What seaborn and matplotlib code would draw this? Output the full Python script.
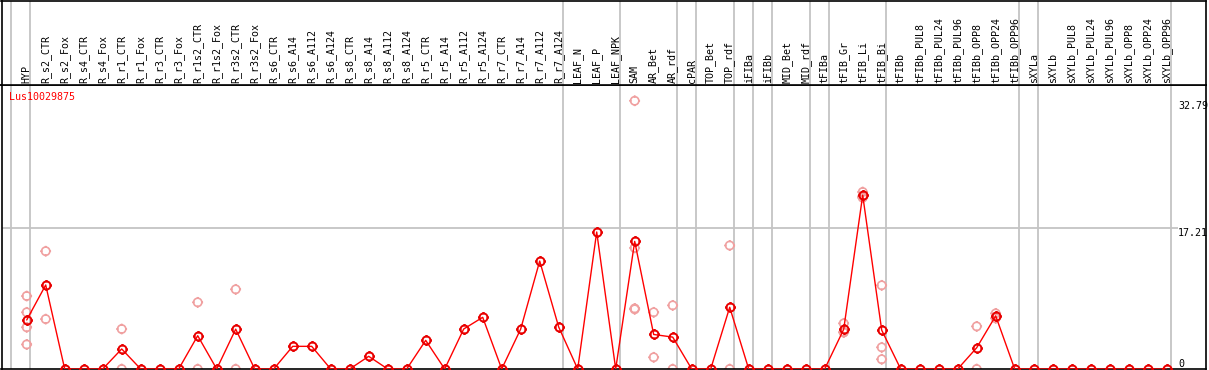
import numpy as np
import pandas as pd
import matplotlib
matplotlib.use("Agg")
import matplotlib.pyplot as plt
import seaborn as sns
from matplotlib.path import Path

# ---------------- data ----------------
series_name = "Lus10029875"

categories = [
    "HYP", "R_s2_CTR", "R_s2_Fox", "R_s4_CTR", "R_s4_Fox", "R_r1_CTR", "R_r1_Fox",
    "R_r3_CTR", "R_r3_Fox", "R_r1s2_CTR", "R_r1s2_Fox", "R_r3s2_CTR", "R_r3s2_Fox",
    "R_s6_CTR", "R_s6_A14", "R_s6_A112", "R_s6_A124", "R_s8_CTR", "R_s8_A14",
    "R_s8_A112", "R_s8_A124", "R_r5_CTR", "R_r5_A14", "R_r5_A112", "R_r5_A124",
    "R_r7_CTR", "R_r7_A14", "R_r7_A112", "R_r7_A124", "LEAF_N", "LEAF_P", "LEAF_NPK",
    "SAM", "AR_Bet", "AR_rdf", "cPAR", "TOP_Bet", "TOP_rdf", "iFIBa", "iFIBb",
    "MID_Bet", "MID_rdf", "tFIBa", "tFIB_Gr", "tFIB_Li", "tFIB_Bi", "tFIBb",
    "tFIBb_PUL8", "tFIBb_PUL24", "tFIBb_PUL96", "tFIBb_OPP8", "tFIBb_OPP24",
    "tFIBb_OPP96", "sXYLa", "sXYLb", "sXYLb_PUL8", "sXYLb_PUL24", "sXYLb_PUL96",
    "sXYLb_OPP8", "sXYLb_OPP24", "sXYLb_OPP96",
]

mean_values = [
    5.99, 10.27, 0, 0, 0, 2.45, 0, 0, 0, 4.07, 0, 4.87, 0,
    0, 2.77, 2.77, 0, 0, 1.55, 0, 0, 3.5, 0, 4.89, 6.32,
    0, 4.89, 13.2, 5.13, 0, 16.75, 0,
    15.6, 4.22, 3.9, 0, 0, 7.55, 0, 0,
    0, 0, 0, 4.85, 21.25, 4.75, 0,
    0, 0, 0, 2.6, 6.5, 0,
    0, 0, 0, 0, 0, 0, 0, 0,
]

rep_categories = [
    "HYP", "HYP", "HYP", "HYP",
    "R_s2_CTR", "R_s2_CTR",
    "R_r1_CTR", "R_r1_CTR",
    "R_r1s2_CTR", "R_r1s2_CTR",
    "R_r3s2_CTR", "R_r3s2_CTR",
    "SAM", "SAM", "SAM", "SAM",
    "AR_Bet", "AR_Bet",
    "AR_rdf", "AR_rdf",
    "TOP_rdf", "TOP_rdf",
    "tFIB_Gr", "tFIB_Gr", "tFIB_Gr",
    "tFIB_Li", "tFIB_Li", "tFIB_Li",
    "tFIB_Bi", "tFIB_Bi", "tFIB_Bi",
    "tFIBb_OPP8", "tFIBb_OPP8",
    "tFIBb_OPP24", "tFIBb_OPP24",
]
rep_values = [
    8.92, 6.93, 5.1, 3.0,
    14.4, 6.1,
    4.89, 0,
    8.15, 0,
    9.74, 0,
    32.79, 14.8, 7.4, 7.3,
    6.93, 1.43,
    7.78, 0,
    15.1, 0,
    5.58, 4.49, 4.48,
    21.64, 20.94, 21.1,
    10.23, 2.65, 1.19,
    5.21, 0,
    6.8, 6.2,
]

group_lines = [-0.84, 0.2, 28.2, 31.2, 34.2, 35.2, 37.2, 38.2, 39.2,
               41.2, 42.2, 45.2, 52.2, 53.2, 60.2]
y_labels = ["32.79", "17.21", "0"]
y_label_values = [32.79, 17.21, 0.0]

# ---------------- layout helpers ----------------
W, H = 1209, 370
STEP, X0 = 19.0, 26.7          # px per category, px of first category
PX_PER_UNIT = 8.18


def xi(px):
    return (px - X0) / STEP


sns.set_theme(style="white")
plt.rcParams["font.family"] = ["DejaVu Sans Mono", "DejaVu Sans"]

fig = plt.figure(figsize=(W / 100, H / 100), dpi=100)
left_px, right_px = 1.5, 1205.5
ax = fig.add_axes([left_px / W, 1 - 369 / H, (right_px - left_px) / W, (369 - 85) / H])
hx = fig.add_axes([left_px / W, 1 - 85 / H, (right_px - left_px) / W, (85 - 1) / H])

xlim = (xi(left_px), xi(right_px))
ylim = (0, (369 - 85) / PX_PER_UNIT)

# marker: circle with four small ticks
circ = Path.circle((0, 0), 1.0)
ticks = []
codes = []
for dx, dy in [(0, 1), (0, -1), (1, 0), (-1, 0)]:
    ticks += [(dx * 0.8, dy * 0.8), (dx * 1.3, dy * 1.3)]
    codes += [Path.MOVETO, Path.LINETO]
tick_marker = Path.make_compound_path(circ, Path(ticks, codes))

# grid lines
for g in group_lines:
    ax.axvline(g, color="#c4c4c4", lw=1.3, zorder=0)
    hx.axvline(g, color="#c4c4c4", lw=1.3, zorder=0)
ax.hlines(17.21, xlim[0], xi(1178), color="#c4c4c4", lw=1.3, zorder=0)

pos = {c: i for i, c in enumerate(categories)}
mean_df = pd.DataFrame({"pos": np.arange(len(categories)), "value": mean_values})
rep_df = pd.DataFrame({"pos": [pos[c] for c in rep_categories], "value": rep_values})

sns.scatterplot(data=rep_df, x="pos", y="value", ax=ax, marker=tick_marker, s=60,
                facecolor="none", edgecolor="#f0a0a0", linewidth=1.2, zorder=2,
                legend=False)
sns.lineplot(data=mean_df, x="pos", y="value", ax=ax, color="#ff0000", lw=1.0,
             marker=tick_marker, markersize=7.6, markerfacecolor="none",
             markeredgecolor="#e80000", markeredgewidth=1.4, zorder=3,
             legend=False)

ax.set_xlim(*xlim)
ax.set_ylim(*ylim)
ax.set_xlabel("")
ax.set_ylabel("")
ax.set_xticks([])
ax.set_yticks([])

for lab, v in zip(y_labels, y_label_values):
    ax.text(xi(1178), v, lab, ha="left", va="bottom" if v == 0 else "top",
            fontsize=7.2, color="black")

ax.text(xi(9.3), (369 - 96.7) / PX_PER_UNIT, series_name, ha="left", va="center",
        fontsize=7.2, color="#ff0000")

# header
hx.set_xlim(*xlim)
hx.set_ylim(0, 1)
hx.set_xticks([])
hx.set_yticks([])
for i, c in enumerate(categories):
    hx.text(i, (85 - 83) / 84, c, rotation=90, ha="center", va="bottom",
            fontsize=7.2, color="black")

for a in (ax, hx):
    for s in a.spines.values():
        s.set_color("black")
        s.set_linewidth(1.2)
        s.set_visible(True)
    a.set_facecolor("white")

fig.savefig("out.png", dpi=100, facecolor="white")
